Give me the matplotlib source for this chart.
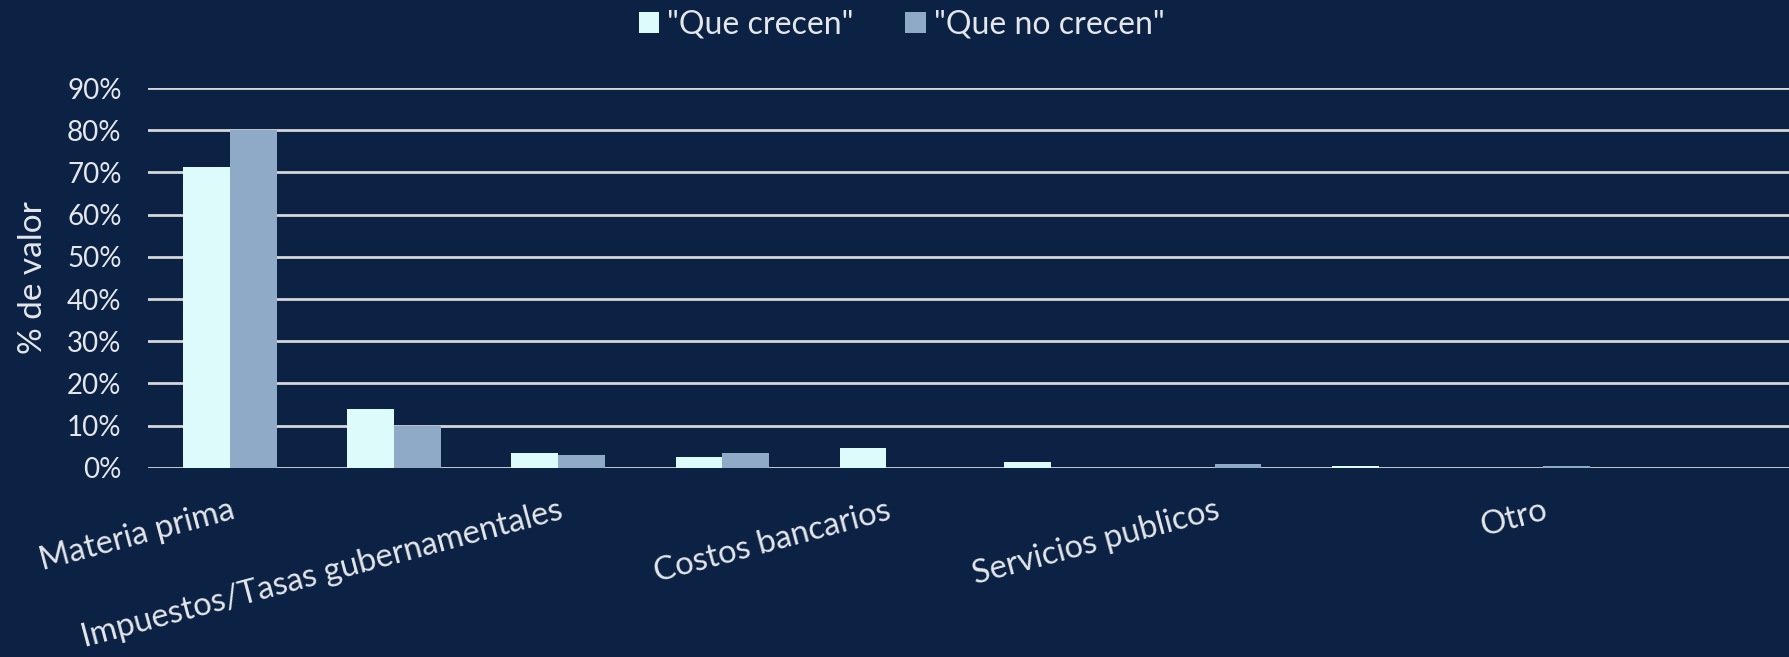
import numpy as np
import matplotlib
matplotlib.use("Agg")
import matplotlib.pyplot as plt
from matplotlib.ticker import PercentFormatter

# categories (only every other label is shown in the original)
categories = [
    "Materia prima",
    "",
    "Impuestos/Tasas gubernamentales",
    "",
    "Costos bancarios",
    "",
    "Servicios publicos",
    "",
    "Otro",
    "",
]
que_crecen = [71.2, 13.9, 3.5, 2.6, 4.8, 1.4, 0.0, 0.5, 0.0, 0.0]
que_no_crecen = [80.0, 10.0, 3.1, 3.5, 0.0, 0.0, 0.8, 0.0, 0.5, 0.0]
series_names = ['"Que crecen"', '"Que no crecen"']
y_ticks = [0, 10, 20, 30, 40, 50, 60, 70, 80, 90]

bg = "#0b2244"
c_crecen = "#defbfc"
c_no_crecen = "#8eaac6"
txt = "#e4e6ea"
grid = "#d6d6d6"

plt.rcParams["font.family"] = ["Lato", "DejaVu Sans"]

fig = plt.figure(figsize=(17.89, 6.57), dpi=100, facecolor=bg)
ax = fig.add_axes([0.0827, 0.288, 0.9173, 0.578])
ax.set_facecolor(bg)

x = np.arange(len(categories))
w = 0.285
ax.bar(x - w / 2, que_crecen, w, color=c_crecen, label=series_names[0], zorder=3)
ax.bar(x + w / 2, que_no_crecen, w, color=c_no_crecen, label=series_names[1], zorder=3)

ax.set_xlim(-0.5, len(categories) - 0.5)
ax.set_ylim(0, 90)
ax.set_yticks(y_ticks)
ax.yaxis.set_major_formatter(PercentFormatter(decimals=0))
ax.grid(axis="y", color=grid, linewidth=2, zorder=0)
ax.set_axisbelow(True)

for s in ax.spines.values():
    s.set_visible(False)

ax.tick_params(axis="y", length=0, pad=19, labelsize=20, labelcolor=txt)
ax.tick_params(axis="x", length=0, pad=20)
ax.set_xticks(x)
ax.set_xticklabels(categories, rotation=15, ha="right", va="top",
                   rotation_mode="anchor", fontsize=23.5, color=txt)

ax.set_ylabel("% de valor", fontsize=24, color=txt, labelpad=14)

leg = fig.legend(loc="center", bbox_to_anchor=(0.504, 0.962), ncol=2,
                 frameon=False, fontsize=23, labelcolor=txt,
                 handlelength=0.65, handleheight=0.65, handletextpad=0.25,
                 columnspacing=1.6)

fig.savefig("out.png", dpi=100, facecolor=bg)
